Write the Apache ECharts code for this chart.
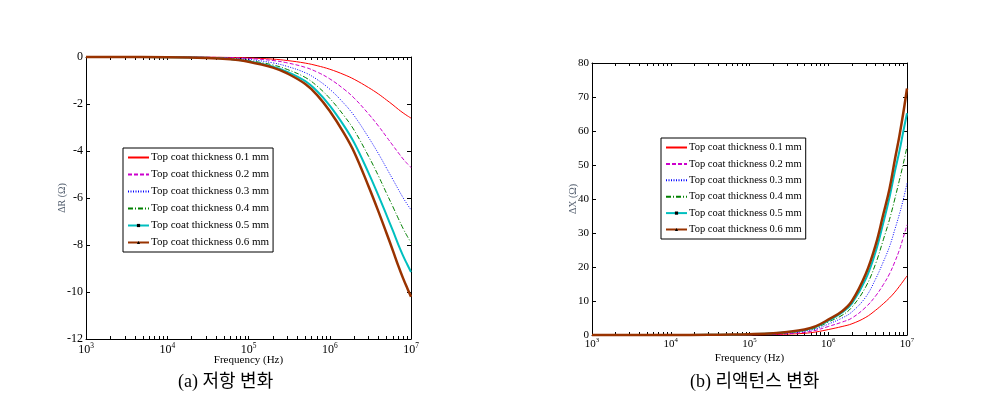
<!DOCTYPE html>
<html>
<head>
<meta charset="utf-8">
<script src="https://cdn.jsdelivr.net/npm/echarts@6/dist/echarts.min.js"></script>
<style>html,body{margin:0;padding:0;background:#fff;}#c{width:995px;height:406px;}</style>
</head>
<body>
<div id="c"></div>
<script>
// ---- data ----
const freq = [1e3, 1e4, 3e4, 6e4, 1e5, 2e5, 3e5, 5e5, 7e5, 1e6, 1.5e6, 2e6, 3e6, 4e6, 5e6, 6e6, 7e6, 8e6, 9e6, 1e7];
const seriesNames = ['Top coat thickness 0.1 mm','Top coat thickness 0.2 mm','Top coat thickness 0.3 mm','Top coat thickness 0.4 mm','Top coat thickness 0.5 mm','Top coat thickness 0.6 mm'];
// Delta R (Ohm)
const dR_01 = [0, -0.002, -0.008, -0.02, -0.04, -0.09, -0.15, -0.26, -0.37, -0.52, -0.75, -0.95, -1.3, -1.58, -1.83, -2.04, -2.23, -2.38, -2.5, -2.6];
const dR_02 = [0, -0.003, -0.01, -0.03, -0.06, -0.15, -0.25, -0.44, -0.64, -0.93, -1.37, -1.75, -2.42, -2.95, -3.4, -3.77, -4.08, -4.34, -4.54, -4.7];
const dR_03 = [0, -0.005, -0.02, -0.05, -0.1, -0.25, -0.4, -0.67, -0.96, -1.37, -1.98, -2.5, -3.42, -4.13, -4.73, -5.22, -5.64, -5.99, -6.27, -6.5];
const dR_04 = [0, -0.01, -0.03, -0.07, -0.15, -0.34, -0.53, -0.87, -1.24, -1.76, -2.5, -3.12, -4.22, -5.08, -5.8, -6.38, -6.88, -7.3, -7.63, -7.9];
const dR_05 = [0, -0.01, -0.035, -0.09, -0.18, -0.41, -0.63, -1.03, -1.46, -2.07, -2.93, -3.65, -4.93, -5.92, -6.73, -7.4, -7.99, -8.46, -8.83, -9.15];
const dR_06 = [0, -0.01, -0.04, -0.1, -0.2, -0.45, -0.7, -1.15, -1.62, -2.3, -3.25, -4.05, -5.5, -6.6, -7.5, -8.25, -8.9, -9.42, -9.84, -10.2];
// Delta X (Ohm)
const dX_01 = [0, 0, 0.01, 0.02, 0.05, 0.13, 0.25, 0.5, 0.9, 1.6, 2.5, 3.3, 5.2, 7.3, 9.2, 10.9, 12.6, 14.3, 15.9, 17.4];
const dX_02 = [0, 0.003, 0.015, 0.04, 0.1, 0.22, 0.4, 0.8, 1.4, 2.5, 3.8, 5.0, 8.2, 11.5, 14.8, 18.0, 21.5, 25.0, 28.8, 32.4];
const dX_03 = [0, 0.005, 0.02, 0.06, 0.14, 0.32, 0.55, 1.1, 1.8, 3.2, 5.0, 6.8, 11.2, 16.5, 21.5, 26.0, 31.0, 35.5, 40.0, 44.6];
const dX_04 = [0, 0.01, 0.03, 0.08, 0.18, 0.42, 0.7, 1.3, 2.1, 3.8, 5.8, 8.2, 14.2, 21.0, 28.0, 34.0, 40.0, 45.5, 50.5, 55.4];
const dX_05 = [0, 0.01, 0.04, 0.1, 0.22, 0.5, 0.85, 1.5, 2.4, 4.2, 6.6, 9.3, 16.5, 24.5, 33.0, 40.5, 48.0, 54.0, 60.0, 65.2];
const dX_06 = [0, 0.01, 0.05, 0.12, 0.25, 0.55, 0.9, 1.6, 2.6, 4.5, 7.0, 10.0, 18.0, 26.5, 35.5, 43.0, 51.5, 58.5, 65.5, 72.5];
const xMajorExponents = [3, 4, 5, 6, 7];
const captions = ['(a) 저항 변화', '(b) 리액턴스 변화'];

// ---- styles ----
const serif = 'Liberation Serif';
const styles = [
  {color:'#ff0000', width:1, type:'solid', symbol:'none'},
  {color:'#cc00cc', width:1, type:[4,2], symbol:'none'},
  {color:'#0000ff', width:1, type:[1,1.5], symbol:'none'},
  {color:'#008000', width:1, type:[5,2,1,2], symbol:'none'},
  {color:'#00bfbf', width:2, type:'solid', symbol:'rect'},
  {color:'#993300', width:2.5, type:'solid', symbol:'triangle'}
];
const majorTicks = xMajorExponents.map(e => Math.pow(10, e));
const minorTicks = [];
for (let e = 3; e < 7; e++) for (let k = 1; k < 10; k++) minorTicks.push(k * Math.pow(10, e));
minorTicks.push(1e7);

function xAx(grid, pos, labels, fs) {
  return {
    type:'log', logBase:10, gridIndex:grid, position:pos, min:1e3, max:1e7,
    axisLine:{show:true, onZero:false, lineStyle:{color:'#000', width:1}},
    axisTick:{show:true, inside:true, length:3, customValues:minorTicks, lineStyle:{color:'#000'}},
    splitLine:{show:false}, minorTick:{show:false},
    axisLabel:{show:labels, customValues:majorTicks, margin: grid===0?4:2,
      formatter: v => '{b|10}{s|' + Math.round(Math.log10(v)) + '}',
      rich:{b:{fontFamily:serif, fontSize:fs, color:'#000', lineHeight:14}, s:{fontFamily:serif, fontSize:fs*0.62, color:'#000', verticalAlign:'top', lineHeight:8}}},
    name: labels ? 'Frequency (Hz)' : '', nameLocation:'middle', nameGap: grid===0?16:18, nameMoveOverlap:false,
    nameTextStyle:{fontFamily:serif, fontSize:11, color:'#000'}
  };
}
function yAx(grid, pos, labels, min, max, interval, name, fs) {
  return {
    type:'value', gridIndex:grid, position:pos, min:min, max:max, interval:interval,
    axisLine:{show:true, onZero:false, lineStyle:{color:'#000', width:1}},
    axisTick:{show:true, inside:true, length:4, lineStyle:{color:'#000'}},
    splitLine:{show:false},
    axisLabel:{show:labels, margin:3, fontFamily:serif, fontSize:fs, color:'#000'},
    name: labels ? name : '', nameLocation:'middle', nameGap: grid===0?19:14, nameRotate:90, nameMoveOverlap:false,
    nameTextStyle:{fontFamily:serif, fontSize:10, color:'#556070'}
  };
}
function mk(grid, name, vals, st) {
  return {
    type:'line', name:name, xAxisIndex:grid*2, yAxisIndex:grid*2,
    data: freq.map((f, i) => [f, vals[i]]),
    smooth:0.4, clip:false,
    symbol: st.symbol === 'none' ? 'circle' : st.symbol, symbolSize:3, showSymbol:false,
    itemStyle:{color:'#000'},
    lineStyle:{color:st.color, width:st.width, type:st.type, join:'round'},
    emphasis:{disabled:true}, animation:false
  };
}
const rSets = [dR_01, dR_02, dR_03, dR_04, dR_05, dR_06];
const xSets = [dX_01, dX_02, dX_03, dX_04, dX_05, dX_06];
const series = [];
rSets.forEach((v, i) => series.push(mk(0, seriesNames[i], v, styles[i])));
xSets.forEach((v, i) => series.push(mk(1, seriesNames[i], v, styles[i])));

const legendData = seriesNames.map((n, i) => styles[i].symbol === 'none'
  ? {name:n, itemStyle:{color:'rgba(0,0,0,0)', borderWidth:0}}
  : {name:n, itemStyle:{color:'#000', borderWidth:0}});

function legend(left, top, gap, fs) {
  return {data:legendData, orient:'vertical', left:left, top:top, borderColor:'#000', borderWidth:1, borderRadius:0,
    backgroundColor:'#fff', padding:[4,4,4,4], itemWidth:21, itemHeight:4, itemGap:gap, selectedMode:false,
    textStyle:{fontFamily:serif, fontSize:fs, color:'#000', lineHeight:8, padding:[0,0,0,-3]}};
}

const chart = echarts.init(document.getElementById('c'), null, {renderer:'canvas'});
chart.setOption({
  animation:false,
  backgroundColor:'#fff',
  grid:[
    {left:86, top:57, width:325, height:282},
    {left:592, top:63, width:315, height:272}
  ],
  xAxis:[xAx(0,'bottom',true,12), xAx(0,'top',false,12), xAx(1,'bottom',true,11), xAx(1,'top',false,11)],
  yAxis:[yAx(0,'left',true,-12,0,2,'ΔR (Ω)',12), yAx(0,'right',false,-12,0,2,'',12),
         yAx(1,'left',true,0,80,10,'ΔX (Ω)',11), yAx(1,'right',false,0,80,10,'',11)],
  legend:[legend(123, 148, 6, 11), legend(661, 138, 5.4, 10.5)],
  graphic:[
    {type:'text', left:178, top:373, style:{text:captions[0], font:'18px "Liberation Serif", "Noto Sans CJK KR"', fill:'#000'}},
    {type:'text', left:690, top:373, style:{text:captions[1], font:'18px "Liberation Serif", "Noto Sans CJK KR"', fill:'#000'}}
  ],
  series:series
});
</script>
</body>
</html>
